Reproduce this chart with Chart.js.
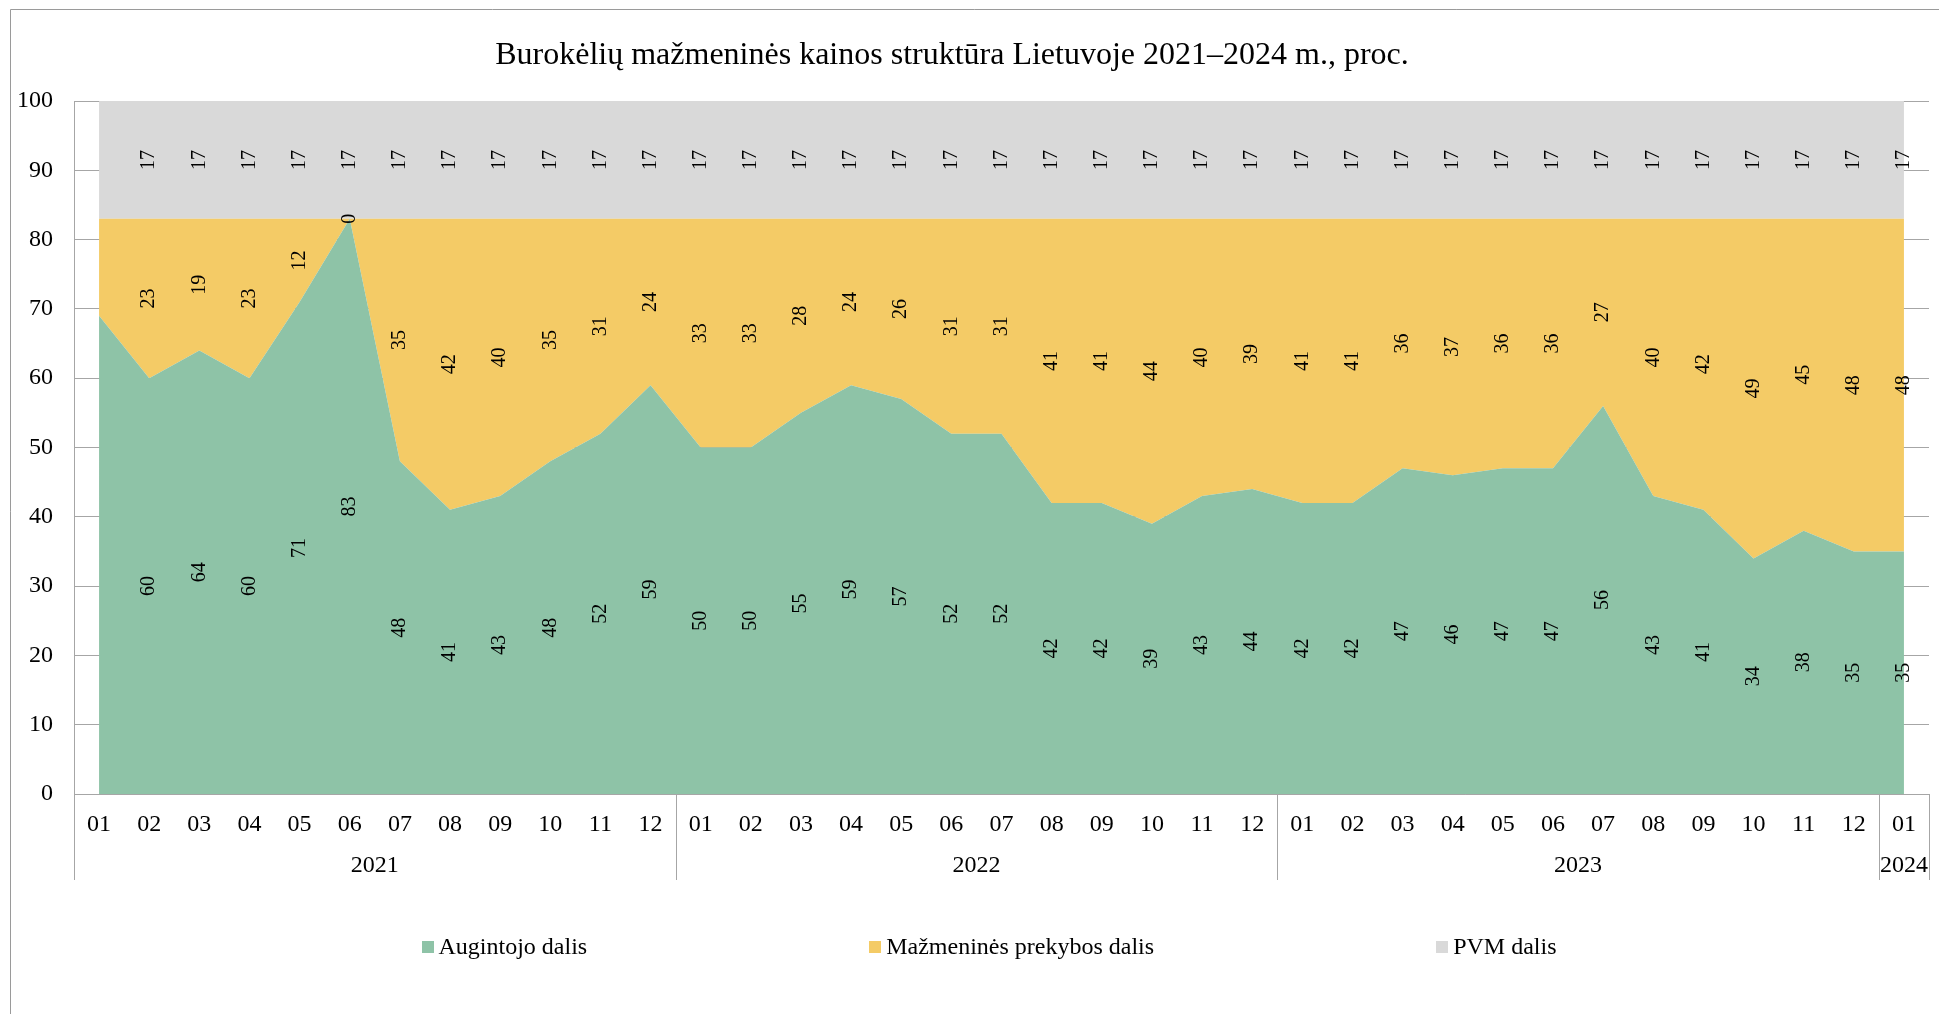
<!DOCTYPE html>
<html lang="lt">
<head>
<meta charset="UTF-8">
<title>Burokėlių mažmeninės kainos struktūra</title>
<script src="https://cdn.jsdelivr.net/npm/chart.js"></script>
<style>
    html, body {
        margin: 0;
        padding: 0;
        background: #ffffff;
    }
    canvas {
        display: block;
    }
</style>
</head>
<body>
<canvas id="kainosChart" width="1939" height="1014"></canvas>

<script>
// duomenys
const pavadinimas = 'Burokėlių mažmeninės kainos struktūra Lietuvoje 2021–2024 m., proc.';
const menesiai = ['01', '02', '03', '04', '05', '06', '07', '08', '09', '10', '11', '12',
                  '01', '02', '03', '04', '05', '06', '07', '08', '09', '10', '11', '12',
                  '01', '02', '03', '04', '05', '06', '07', '08', '09', '10', '11', '12',
                  '01'];
const metai = ['2021', '2022', '2023', '2024'];
const augintojoDalis = [69, 60, 64, 60, 71, 83, 48, 41, 43, 48, 52, 59,
                        50, 50, 55, 59, 57, 52, 52, 42, 42, 39, 43, 44,
                        42, 42, 47, 46, 47, 47, 56, 43, 41, 34, 38, 35,
                        35];
const prekybosDalis = [14, 23, 19, 23, 12, 0, 35, 42, 40, 35, 31, 24,
                       33, 33, 28, 24, 26, 31, 31, 41, 41, 44, 40, 39,
                       41, 41, 36, 37, 36, 36, 27, 40, 42, 49, 45, 48,
                       48];
const pvmDalis = [17, 17, 17, 17, 17, 17, 17, 17, 17, 17, 17, 17,
                  17, 17, 17, 17, 17, 17, 17, 17, 17, 17, 17, 17,
                  17, 17, 17, 17, 17, 17, 17, 17, 17, 17, 17, 17,
                  17];
const yTicks = [0, 10, 20, 30, 40, 50, 60, 70, 80, 90, 100];

// pirmasis mėnuo paliekamas be reikšmių užrašų
const etiketesNuo = 1;

const fontas = '"Liberation Serif", "Times New Roman", serif';
const linijuSpalva = '#a6a6a6';

// fonas, rėmelis, pavadinimas, metų eilutė ir legenda
const remas = {
    id: 'remas',
    beforeDraw(chart) {
        const c = chart.ctx;
        c.save();
        c.fillStyle = '#ffffff';
        c.fillRect(0, 0, chart.width, chart.height);
        c.strokeStyle = '#9a9a9a';
        c.lineWidth = 1;
        c.beginPath();
        c.moveTo(10.5, chart.height);
        c.lineTo(10.5, 9.5);
        c.lineTo(chart.width, 9.5);
        c.stroke();
        c.restore();
    },
    afterDraw(chart) {
        const c = chart.ctx;
        const x = chart.scales.x;
        const a = chart.chartArea;
        const apacia = 880;
        c.save();

        c.fillStyle = '#000';
        c.font = '32px ' + fontas;
        c.textAlign = 'center';
        c.textBaseline = 'middle';
        c.fillText(pavadinimas, 952, 56);

        // metų ribos - ten, kur prasideda sausis
        const ribos = [];
        menesiai.forEach((m, i) => { if (m === '01') ribos.push(i); });
        ribos.push(menesiai.length);
        const krastas = i => {
            if (i === 0) return a.left;
            if (i === menesiai.length) return a.right;
            return (x.getPixelForValue(i - 1) + x.getPixelForValue(i)) / 2;
        };

        c.strokeStyle = linijuSpalva;
        c.lineWidth = 1;
        c.beginPath();
        c.moveTo(a.left, Math.round(a.bottom) + 0.5);
        c.lineTo(a.right, Math.round(a.bottom) + 0.5);
        ribos.forEach(i => {
            const px = Math.round(krastas(i)) + 0.5;
            c.moveTo(px, a.bottom);
            c.lineTo(px, apacia);
        });
        c.stroke();

        c.font = '24px ' + fontas;
        for (let k = 0; k < ribos.length - 1; k++) {
            const cx = (krastas(ribos[k]) + krastas(ribos[k + 1])) / 2;
            c.fillText(metai[k], cx, 866);
        }

        // legenda
        c.font = '24px ' + fontas;
        c.textAlign = 'left';
        const kv = 12, tarpas = 5, protarpis = 282, ly = 947;
        const plociai = chart.data.datasets.map(d => kv + tarpas + c.measureText(d.label).width);
        const viso = plociai.reduce((s, w) => s + w, 0) + protarpis * (plociai.length - 1);
        let lx = 989 - viso / 2;
        chart.data.datasets.forEach((d, i) => {
            c.fillStyle = d.backgroundColor;
            c.fillRect(Math.round(lx), ly - kv / 2, kv, kv);
            c.fillStyle = '#000';
            c.fillText(d.label, lx + kv + tarpas, ly + 1);
            lx += plociai[i] + protarpis;
        });

        c.restore();
    }
};

// reikšmės kiekvieno sluoksnio viduryje, pasuktos vertikaliai
const reiksmes = {
    id: 'reiksmes',
    afterDatasetsDraw(chart) {
        const c = chart.ctx;
        const x = chart.scales.x;
        const y = chart.scales.y;
        c.save();
        c.font = '20px ' + fontas;
        c.fillStyle = '#000';
        c.textAlign = 'center';
        c.textBaseline = 'middle';
        const pagrindas = menesiai.map(() => 0);
        chart.data.datasets.forEach(ds => {
            ds.data.forEach((v, i) => {
                const vidurys = pagrindas[i] + v / 2;
                pagrindas[i] += v;
                if (i < etiketesNuo) return;
                c.save();
                c.translate(x.getPixelForValue(i), y.getPixelForValue(vidurys));
                c.rotate(-Math.PI / 2);
                c.fillText(String(v), 0, 0);
                c.restore();
            });
        });
        c.restore();
    }
};

function sluoksnis(pavadinimas, duomenys, spalva, uzpildas) {
    return {
        label: pavadinimas,
        data: duomenys,
        backgroundColor: spalva,
        borderColor: 'rgba(0,0,0,0)',
        borderWidth: 0,
        pointRadius: 0,
        tension: 0,
        fill: uzpildas
    };
}

const ctx = document.getElementById('kainosChart').getContext('2d');
new Chart(ctx, {
    type: 'line',
    data: {
        labels: menesiai,
        datasets: [
            sluoksnis('Augintojo dalis', augintojoDalis, '#8ec3a7', 'origin'),
            sluoksnis('Mažmeninės prekybos dalis', prekybosDalis, '#f4cb66', '-1'),
            sluoksnis('PVM dalis', pvmDalis, '#d9d9d9', '-1')
        ]
    },
    options: {
        responsive: false,
        animation: false,
        devicePixelRatio: 1,
        events: [],
        layout: {
            padding: { top: 101, right: 10, bottom: 0, left: 0 }
        },
        plugins: {
            legend: { display: false },
            title: { display: false },
            tooltip: { enabled: false }
        },
        scales: {
            x: {
                offset: true,
                afterFit(s) { s.height = 220; },
                grid: { display: false, drawTicks: false },
                border: { display: false },
                ticks: {
                    autoSkip: false,
                    maxRotation: 0,
                    padding: 16,
                    color: '#000',
                    font: { family: fontas, size: 24 }
                }
            },
            y: {
                stacked: true,
                min: 0,
                max: 100,
                afterFit(s) { s.width = 74; },
                afterBuildTicks(s) { s.ticks = yTicks.map(v => ({ value: v })); },
                grid: { color: linijuSpalva, drawTicks: false },
                border: { color: linijuSpalva },
                ticks: {
                    padding: 21,
                    color: '#000',
                    font: { family: fontas, size: 24 }
                }
            }
        }
    },
    plugins: [remas, reiksmes]
});
</script>
</body>
</html>
